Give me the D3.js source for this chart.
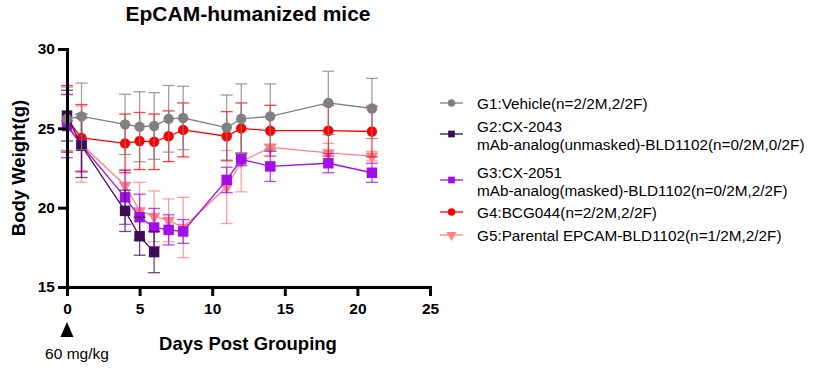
<!DOCTYPE html>
<html lang="en">
<head>
<meta charset="utf-8">
<title>EpCAM-humanized mice</title>
<script src="https://cdn.jsdelivr.net/npm/d3@7"></script>
<style>
  body { margin: 0; background: #fff; font-family: "Liberation Sans", Arial, sans-serif; }
  .axis path, .axis line { stroke: #000; stroke-width: 3px; fill: none; }
  .axis text { font-size: 15.5px; font-weight: bold; fill: #000; }
</style>
</head>
<body>
<script>
// ---- data ----
var days = [0, 1, 4, 5, 6, 7, 8, 11, 12, 14, 18, 21];
var g1Mean = [25.6, 25.75, 25.25, 25.1, 25.15, 25.6, 25.65, 25.05, 25.6, 25.75, 26.6, 26.25];
var g1Err  = [2.0, 2.1, 1.9, 2.2, 2.1, 2.1, 2.0, 2.05, 2.2, 2.05, 2.0, 1.9];
var g2Days = [0, 1, 4, 5, 6];
var g2Mean = [25.8, 23.9, 19.8, 18.2, 17.2];
var g2Err  = [1.6, 2.0, 1.3, 1.2, 1.3];
var g3Mean = [25.15, 23.95, 20.65, 19.4, 18.75, 18.6, 18.5, 21.75, 23.05, 22.6, 22.8, 22.2];
var g3Err  = [2.0, 1.7, 1.7, 1.45, 1.2, 0.95, 0.75, 0.8, 0.4, 0.95, 0.6, 0.6];
var g4Mean = [25.6, 24.4, 24.05, 24.2, 24.15, 24.5, 24.9, 24.5, 25.0, 24.85, 24.85, 24.8];
var g4Err  = [2.1, 2.1, 1.85, 1.8, 1.75, 1.6, 1.7, 1.55, 1.6, 1.6, 1.6, 1.6];
var g5Mean = [25.3, 24.0, 21.4, 19.8, 19.45, 19.2, 18.75, 21.3, 22.9, 23.8, 23.45, 23.25];
var g5Err  = [1.8, 2.4, 1.0, 1.8, 1.6, 1.35, 1.9, 2.3, 1.9, 0.2, 0.6, 0.3];

var xTicks = [0, 5, 10, 15, 20, 25];
var yTicks = [15, 20, 25, 30];

function zip(xs, ms, es) {
  return xs.map(function(d, i) { return { x: d, y: ms[i], e: es[i] }; });
}

// legend order G1..G5, drawn in reverse so G1 sits on top
var series = [
  { label: ["G1:Vehicle(n=2/2M,2/2F)"], color: "#808080", shape: "circle", data: zip(days, g1Mean, g1Err) },
  { label: ["G2:CX-2043", "mAb-analog(unmasked)-BLD1102(n=0/2M,0/2F)"], color: "#3d0c55", shape: "square", data: zip(g2Days, g2Mean, g2Err) },
  { label: ["G3:CX-2051", "mAb-analog(masked)-BLD1102(n=0/2M,2/2F)"], color: "#a20ee6", shape: "square", data: zip(days, g3Mean, g3Err) },
  { label: ["G4:BCG044(n=2/2M,2/2F)"], color: "#ff0000", shape: "circle", data: zip(days, g4Mean, g4Err) },
  { label: ["G5:Parental EPCAM-BLD1102(n=1/2M,2/2F)"], color: "#ff8080", shape: "triangle", data: zip(days, g5Mean, g5Err) }
];

var width = 832, height = 380;

var x = d3.scaleLinear().domain([0, 25]).range([67, 430]);
var y = d3.scaleLinear().domain([15, 30]).range([287, 49]);

var svg = d3.select("body").append("svg")
  .attr("width", width)
  .attr("height", height);

var symTypes = { circle: d3.symbolCircle, square: d3.symbolSquare, triangle: d3.symbolTriangle };
var symSize = { circle: 85, square: 110, triangle: 70 };

var line = d3.line()
  .x(function(d) { return x(d.x); })
  .y(function(d) { return y(d.y); });

series.slice().reverse().forEach(function(s) {
  var g = svg.append("g");
  var eb = g.selectAll(".eb").data(s.data).enter().append("g")
    .attr("stroke", s.color)
    .attr("stroke-opacity", 0.75)
    .attr("stroke-width", 1.3);
  eb.append("line")
    .attr("x1", function(d) { return x(d.x); }).attr("x2", function(d) { return x(d.x); })
    .attr("y1", function(d) { return y(d.y - d.e); }).attr("y2", function(d) { return y(d.y + d.e); });
  eb.append("line")
    .attr("x1", function(d) { return x(d.x) - 6; }).attr("x2", function(d) { return x(d.x) + 6; })
    .attr("y1", function(d) { return y(d.y + d.e); }).attr("y2", function(d) { return y(d.y + d.e); });
  eb.append("line")
    .attr("x1", function(d) { return x(d.x) - 6; }).attr("x2", function(d) { return x(d.x) + 6; })
    .attr("y1", function(d) { return y(d.y - d.e); }).attr("y2", function(d) { return y(d.y - d.e); });

  g.append("path")
    .datum(s.data)
    .attr("fill", "none")
    .attr("stroke", s.color)
    .attr("stroke-width", 1.3)
    .attr("d", line);

  var t = s.shape === "triangle" ? " rotate(180)" : "";
  g.selectAll(".pt").data(s.data).enter().append("path")
    .attr("d", d3.symbol().type(symTypes[s.shape]).size(symSize[s.shape])())
    .attr("fill", s.color)
    .attr("transform", function(d) { return "translate(" + x(d.x) + "," + y(d.y) + ")" + t; });
});

// axes
svg.append("g")
  .attr("class", "axis")
  .attr("transform", "translate(0," + 287 + ")")
  .call(d3.axisBottom(x).tickValues(xTicks).tickSize(9).tickSizeOuter(0).tickPadding(7));

svg.append("g")
  .attr("class", "axis")
  .attr("transform", "translate(" + 67 + ",0)")
  .call(d3.axisLeft(y).tickValues(yTicks).tickSize(9).tickSizeOuter(0).tickPadding(3));

svg.selectAll(".axis .domain").attr("stroke-linecap", "square");

// titles
svg.append("text")
  .attr("x", 248).attr("y", 21)
  .attr("text-anchor", "middle")
  .style("font-size", "21px").style("font-weight", "bold")
  .text("EpCAM-humanized mice");

svg.append("text")
  .attr("transform", "translate(25,168) rotate(-90)")
  .attr("text-anchor", "middle")
  .style("font-size", "18.5px").style("font-weight", "bold")
  .text("Body Weight(g)");

svg.append("text")
  .attr("x", 248).attr("y", 350)
  .attr("text-anchor", "middle")
  .style("font-size", "18.5px").style("font-weight", "bold")
  .text("Days Post Grouping");

// dosing arrow
svg.append("path")
  .attr("d", "M" + x(0) + ",322 L" + (x(0) - 6.5) + ",337 L" + (x(0) + 6.5) + ",337 Z")
  .attr("fill", "#000");
svg.append("text")
  .attr("x", 77).attr("y", 359)
  .attr("text-anchor", "middle")
  .style("font-size", "15.5px")
  .text("60 mg/kg");

// legend
var legY = [103, 134, 180, 212, 235];
series.forEach(function(s, i) {
  var g = svg.append("g").attr("transform", "translate(0," + legY[i] + ")");
  g.append("line").attr("x1", 440).attr("x2", 463).attr("y1", 0).attr("y2", 0)
    .attr("stroke", s.color).attr("stroke-width", 1.3);
  var t = s.shape === "triangle" ? " rotate(180)" : "";
  g.append("path")
    .attr("d", d3.symbol().type(symTypes[s.shape]).size(45)())
    .attr("fill", s.color)
    .attr("transform", "translate(451.5,0)" + t);
  var txt = g.append("text")
    .attr("x", 477)
    .style("font-size", "15.3px");
  if (s.label.length === 1) {
    txt.attr("y", 5.5).text(s.label[0]);
  } else {
    txt.append("tspan").attr("x", 477).attr("y", -2.5).text(s.label[0]);
    txt.append("tspan").attr("x", 477).attr("y", 16).text(s.label[1]);
  }
});
</script>
</body>
</html>
